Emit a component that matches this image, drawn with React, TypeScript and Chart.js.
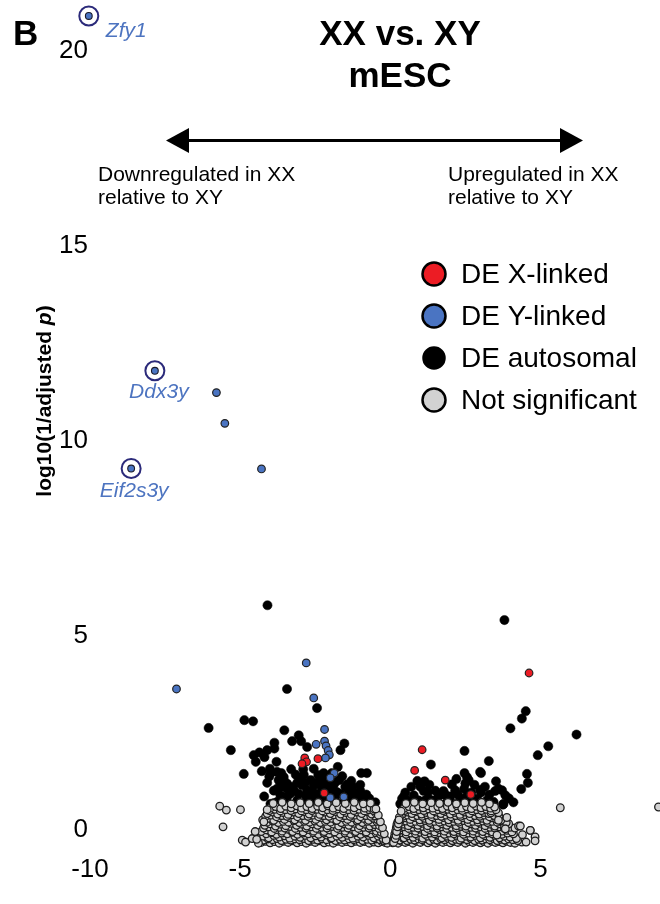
import { useEffect, useRef } from "react";
import { Chart, registerables } from "chart.js";

Chart.register(...registerables);

// Axis ticks
const xTicks = [-10, -5, 0, 5];
const yTicks = [0, 5, 10, 15, 20];

// Labelled Y-linked genes (log2 fold change, log10(1/adjusted p))
const labeledGeneNames = ["Zfy1", "Ddx3y", "Eif2s3y"];
const labeledGeneX = [-10.04, -7.84, -8.63];
const labeledGeneY = [21.24, 12.13, 9.62];

// Other DE Y-linked genes
const yLinked: [number, number][] = [
  [-5.79, 11.57], [-5.51, 10.78], [-4.29, 9.61], [-7.12, 3.96], [-2.8, 4.63],
  [-2.55, 3.73], [-2.19, 2.92], [-2.47, 2.54], [-2.19, 2.62], [-2.14, 2.5],
  [-2.07, 2.38], [-2.03, 2.27], [-2.16, 2.19], [-1.87, 1.8], [-2.0, 1.68],
  [-2.0, 1.17], [-1.55, 1.19],
];

// DE X-linked genes
const xLinked: [number, number][] = [
  [-2.85, 2.19], [-2.79, 2.09], [-2.94, 2.04], [-2.41, 2.17], [-2.2, 1.29],
  [4.62, 4.37], [1.06, 2.4], [0.81, 1.87], [1.83, 1.62], [2.68, 1.25],
];

// DE autosomal genes
const autosomal: [number, number][] = [
  [-4.09, 6.11], [-3.44, 3.96], [-2.44, 3.47], [-4.86, 3.16], [-4.57, 3.13],
  [-6.05, 2.96], [-3.53, 2.9], [-3.05, 2.77], [-3.27, 2.62], [-2.97, 2.62],
  [-3.86, 2.58], [-1.53, 2.56], [-1.66, 2.39], [-5.31, 2.39], [-4.55, 2.26],
  [-4.36, 2.33], [-4.1, 2.39], [-3.86, 2.43], [-4.48, 2.09], [-4.19, 2.21],
  [-3.79, 2.09], [-2.77, 2.47], [-2.55, 1.91], [-2.22, 1.8], [-1.75, 1.96],
  [-0.97, 1.8], [-0.78, 1.8], [-4.28, 1.85], [-4.01, 1.91], [-4.88, 1.78],
  [-4.03, 1.71], [-3.63, 1.8], [-3.72, 1.62], [-3.55, 1.62], [-3.15, 1.76],
  [-2.88, 1.76], [-3.77, 1.4], [-3.44, 1.4], [-3.1, 1.55], [-2.83, 1.55],
  [-2.55, 1.49], [-2.27, 1.62], [-2.11, 1.53], [-1.83, 1.57], [-1.44, 1.51],
  [-1.11, 1.27], [-3.66, 1.23], [-3.33, 1.27], [-2.77, 1.36], [-2.44, 1.27],
  [-2.11, 1.4], [-1.77, 1.31], [-1.44, 1.19], [-1.22, 1.1], [-3.1, 1.1],
  [-2.77, 1.1], [-2.44, 1.06], [-2.22, 1.1], [-1.83, 1.1], [-1.55, 1.06],
  [-0.89, 1.1], [-0.61, 0.98], [-3.88, 1.03], [-3.99, 1.79], [-3.77, 1.83],
  [-3.55, 1.7], [-3.66, 1.57], [-3.44, 1.53], [-3.27, 1.45], [-2.94, 1.49],
  [-2.39, 1.57], [-2.22, 1.7], [-2.05, 1.62], [-1.89, 1.49], [-1.66, 1.27],
  [-1.5, 1.45], [-1.39, 1.36], [-1.27, 1.23], [-0.94, 1.14], [-0.78, 1.06],
  [-2.0, 1.19], [-2.33, 1.19], [-2.55, 1.14], [-2.83, 1.23], [-3.05, 1.27],
  [-3.55, 1.19], [-3.77, 1.06], [-3.99, 1.01], [-1.39, 1.1], [-1.16, 1.01],
  [-3.88, 1.35], [-3.6, 1.45], [-3.2, 1.35], [-3.0, 1.62], [-2.65, 1.62],
  [-2.6, 1.35], [-2.3, 1.45], [-1.95, 1.38], [-1.7, 1.62], [-1.6, 1.72],
  [-1.25, 1.45], [-1.0, 1.35], [-0.8, 1.25], [-0.7, 1.15], [-0.5, 1.05],
  [-2.9, 1.9], [-3.3, 1.9], [-2.4, 1.75], [-1.95, 1.8], [-1.3, 1.6],
  [-3.45, 1.15], [-2.65, 1.2], [-1.0, 1.5], [-4.2, 1.2], [-4.1, 1.55],
  [3.8, 5.73], [4.51, 3.39], [4.38, 3.2], [4.0, 2.95], [6.2, 2.79],
  [5.26, 2.49], [4.91, 2.26], [2.47, 2.37], [3.28, 2.11], [1.35, 2.02],
  [2.47, 1.8], [3.02, 1.8], [4.55, 1.78], [4.58, 1.55], [4.36, 1.39],
  [1.14, 1.59], [1.0, 1.45], [1.11, 1.34], [2.55, 1.7], [2.5, 1.54],
  [2.46, 1.4], [2.05, 1.51], [2.16, 1.36], [1.77, 1.34], [1.81, 1.27],
  [2.99, 1.37], [3.02, 1.3], [3.52, 1.59], [3.6, 1.4], [3.49, 1.34],
  [3.83, 1.23], [2.53, 1.19], [2.88, 1.14], [2.96, 1.06], [3.75, 0.99],
  [0.56, 1.1], [0.78, 1.23], [0.94, 1.1], [1.16, 1.1], [1.39, 1.1],
  [1.44, 1.01], [1.83, 1.01], [1.94, 0.98], [1.11, 1.57], [0.67, 1.06],
  [1.27, 1.14], [1.61, 1.01], [1.83, 1.23], [2.33, 1.14], [2.61, 1.62],
  [2.99, 1.83], [3.72, 1.36], [3.77, 1.01], [2.11, 1.01], [2.55, 1.1],
  [2.77, 1.06], [3.22, 1.1], [3.44, 1.06], [0.33, 1.01], [0.39, 1.14],
  [0.5, 1.3], [0.7, 1.45], [0.9, 1.6], [1.25, 1.3], [1.5, 1.35],
  [1.6, 1.2], [2.0, 1.2], [2.25, 1.25], [2.7, 1.3], [2.8, 1.5],
  [3.15, 1.45], [3.3, 1.25], [3.95, 1.15], [4.1, 1.05], [0.45, 1.2],
  [1.3, 1.5], [2.2, 1.65],
];

// Genes that are not significantly different
const notSignificant: [number, number][] = [
  // near p = 1
  [-4.3, 0.02], [-4.15, 0.05], [-4.0, 0.01], [-3.85, 0.04], [-3.7, 0.0], [-3.55, 0.05],
  [-3.4, 0.02], [-3.25, 0.06], [-3.1, 0.01], [-2.95, 0.04], [-2.8, 0.0], [-2.65, 0.05],
  [-2.5, 0.02], [-2.35, 0.06], [-2.2, 0.01], [-2.05, 0.03], [-1.9, 0.0], [-1.75, 0.05],
  [-1.6, 0.02], [-1.45, 0.04], [-1.3, 0.01], [-1.15, 0.05], [-1.0, 0.02], [-0.85, 0.04],
  [-0.7, 0.0], [-0.55, 0.03], [-0.4, 0.01], [-0.28, 0.04], [-0.18, 0.02], [-0.1, 0.0],
  [0.08, 0.01], [0.16, 0.04], [0.26, 0.0], [0.38, 0.05], [0.5, 0.02], [0.62, 0.04],
  [0.75, 0.0], [0.88, 0.05], [1.0, 0.02], [1.12, 0.06], [1.25, 0.01], [1.38, 0.04],
  [1.5, 0.0], [1.62, 0.05], [1.75, 0.02], [1.88, 0.04], [2.0, 0.01], [2.12, 0.05],
  [2.25, 0.02], [2.38, 0.06], [2.5, 0.0], [2.62, 0.04], [2.75, 0.02], [2.88, 0.05],
  [3.0, 0.01], [3.12, 0.04], [3.25, 0.0], [3.38, 0.05], [3.5, 0.02], [3.62, 0.04],
  [3.75, 0.01], [3.88, 0.05], [4.0, 0.02], [4.15, 0.0], [4.38, 0.03], [4.52, 0.03],
  // ~0.09
  [-4.22, 0.08], [-4.07, 0.11], [-3.92, 0.09], [-3.77, 0.12], [-3.62, 0.07], [-3.47, 0.1],
  [-3.32, 0.08], [-3.17, 0.11], [-3.02, 0.09], [-2.87, 0.12], [-2.72, 0.07], [-2.57, 0.1],
  [-2.42, 0.08], [-2.27, 0.11], [-2.12, 0.09], [-1.97, 0.12], [-1.82, 0.07], [-1.67, 0.1],
  [-1.52, 0.08], [-1.37, 0.11], [-1.22, 0.09], [-1.07, 0.12], [-0.92, 0.07], [-0.77, 0.1],
  [-0.62, 0.08], [-0.47, 0.11], [-0.34, 0.09], [-0.22, 0.07],
  [0.12, 0.09], [0.21, 0.11], [0.32, 0.08], [0.44, 0.12], [0.56, 0.07], [0.68, 0.1],
  [0.81, 0.08], [0.94, 0.11], [1.06, 0.09], [1.18, 0.12], [1.31, 0.07], [1.44, 0.1],
  [1.56, 0.08], [1.68, 0.11], [1.81, 0.09], [1.94, 0.12], [2.06, 0.07], [2.18, 0.1],
  [2.31, 0.08], [2.44, 0.11], [2.56, 0.09], [2.68, 0.12], [2.81, 0.07], [2.94, 0.1],
  [3.06, 0.08], [3.18, 0.11], [3.31, 0.09], [3.44, 0.12], [3.56, 0.07], [3.68, 0.1],
  [3.81, 0.08], [3.94, 0.11], [4.08, 0.09], [4.24, 0.07],
  // ~0.17
  [-4.22, 0.18], [-4.05, 0.14], [-3.88, 0.2], [-3.7, 0.16], [-3.52, 0.19], [-3.35, 0.13],
  [-3.18, 0.18], [-3.0, 0.15], [-2.82, 0.2], [-2.65, 0.14], [-2.48, 0.19], [-2.3, 0.16],
  [-2.12, 0.21], [-1.95, 0.14], [-1.78, 0.18], [-1.6, 0.15], [-1.42, 0.2], [-1.25, 0.13],
  [-1.08, 0.18], [-0.9, 0.16], [-0.72, 0.2], [-0.55, 0.14], [-0.4, 0.18], [-0.24, 0.12],
  [0.18, 0.16], [0.32, 0.2], [0.46, 0.14], [0.6, 0.19], [0.76, 0.15], [0.92, 0.2],
  [1.08, 0.13], [1.24, 0.18], [1.4, 0.16], [1.56, 0.21], [1.72, 0.14], [1.88, 0.18],
  [2.04, 0.15], [2.2, 0.2], [2.36, 0.13], [2.52, 0.18], [2.68, 0.16], [2.84, 0.2],
  [3.0, 0.14], [3.16, 0.19], [3.32, 0.15], [3.48, 0.2], [3.64, 0.14], [3.8, 0.18],
  [3.99, 0.16], [4.2, 0.12], [4.82, 0.16],
  // ~0.25
  [-4.13, 0.24], [-3.96, 0.27], [-3.79, 0.23], [-3.61, 0.26], [-3.43, 0.24], [-3.26, 0.28],
  [-3.09, 0.23], [-2.91, 0.26], [-2.73, 0.24], [-2.56, 0.27], [-2.39, 0.23], [-2.21, 0.26],
  [-2.03, 0.24], [-1.86, 0.28], [-1.69, 0.23], [-1.51, 0.26], [-1.33, 0.24], [-1.16, 0.27],
  [-0.99, 0.23], [-0.81, 0.26], [-0.64, 0.24], [-0.48, 0.27], [-0.33, 0.23],
  [0.25, 0.24], [0.39, 0.27], [0.53, 0.23], [0.68, 0.26], [0.84, 0.24], [1.0, 0.28],
  [1.16, 0.23], [1.32, 0.26], [1.48, 0.24], [1.64, 0.27], [1.8, 0.23], [1.96, 0.26],
  [2.12, 0.24], [2.28, 0.28], [2.44, 0.23], [2.6, 0.26], [2.76, 0.24], [2.92, 0.27],
  [3.08, 0.23], [3.24, 0.26], [3.4, 0.24], [3.56, 0.27], [3.72, 0.23], [3.9, 0.26],
  [4.1, 0.24], [4.4, 0.22],
  // ~0.32
  [-4.3, 0.3], [-4.12, 0.34], [-3.95, 0.29], [-3.78, 0.35], [-3.6, 0.31], [-3.42, 0.36],
  [-3.25, 0.3], [-3.08, 0.34], [-2.9, 0.29], [-2.72, 0.35], [-2.55, 0.31], [-2.38, 0.36],
  [-2.2, 0.3], [-2.02, 0.34], [-1.85, 0.29], [-1.68, 0.35], [-1.5, 0.31], [-1.32, 0.36],
  [-1.15, 0.3], [-0.98, 0.34], [-0.8, 0.29], [-0.62, 0.35], [-0.46, 0.31], [-0.3, 0.28],
  [0.24, 0.3], [0.38, 0.34], [0.53, 0.29], [0.68, 0.35], [0.84, 0.31], [1.0, 0.36],
  [1.16, 0.3], [1.32, 0.34], [1.48, 0.29], [1.64, 0.35], [1.8, 0.31], [1.96, 0.36],
  [2.12, 0.3], [2.28, 0.34], [2.44, 0.29], [2.6, 0.35], [2.76, 0.31], [2.92, 0.36],
  [3.08, 0.3], [3.24, 0.34], [3.4, 0.29], [3.56, 0.35], [3.72, 0.31], [3.88, 0.33],
  [4.05, 0.29], [4.66, 0.33],
  // ~0.40
  [-4.22, 0.39], [-4.04, 0.42], [-3.86, 0.38], [-3.69, 0.41], [-3.51, 0.39], [-3.33, 0.43],
  [-3.16, 0.38], [-2.99, 0.41], [-2.81, 0.39], [-2.63, 0.42], [-2.46, 0.38], [-2.29, 0.41],
  [-2.11, 0.39], [-1.93, 0.43], [-1.76, 0.38], [-1.59, 0.41], [-1.41, 0.39], [-1.23, 0.42],
  [-1.06, 0.38], [-0.89, 0.41], [-0.71, 0.39], [-0.54, 0.42], [-0.38, 0.38],
  [0.3, 0.39], [0.46, 0.42], [0.61, 0.38], [0.76, 0.41], [0.92, 0.39], [1.08, 0.43],
  [1.24, 0.38], [1.4, 0.41], [1.56, 0.39], [1.72, 0.42], [1.88, 0.38], [2.04, 0.41],
  [2.2, 0.39], [2.36, 0.43], [2.52, 0.38], [2.68, 0.41], [2.84, 0.39], [3.0, 0.42],
  [3.16, 0.38], [3.32, 0.41], [3.48, 0.39], [3.64, 0.42], [3.8, 0.38], [3.98, 0.41],
  [4.15, 0.39],
  // ~0.47
  [-4.18, 0.46], [-4.0, 0.5], [-3.82, 0.44], [-3.65, 0.49], [-3.48, 0.45], [-3.3, 0.51],
  [-3.12, 0.46], [-2.95, 0.49], [-2.78, 0.44], [-2.6, 0.5], [-2.42, 0.46], [-2.25, 0.51],
  [-2.08, 0.45], [-1.9, 0.49], [-1.72, 0.44], [-1.55, 0.5], [-1.38, 0.46], [-1.2, 0.51],
  [-1.02, 0.45], [-0.85, 0.49], [-0.68, 0.44], [-0.52, 0.48], [-0.36, 0.45],
  [0.28, 0.44], [0.44, 0.49], [0.6, 0.45], [0.76, 0.5], [0.92, 0.46], [1.08, 0.51],
  [1.24, 0.45], [1.4, 0.49], [1.56, 0.44], [1.72, 0.5], [1.88, 0.46], [2.04, 0.51],
  [2.2, 0.45], [2.36, 0.49], [2.52, 0.44], [2.68, 0.5], [2.84, 0.46], [3.0, 0.51],
  [3.16, 0.45], [3.32, 0.49], [3.48, 0.44], [3.64, 0.5], [3.8, 0.46], [3.94, 0.5],
  [4.27, 0.44], [3.55, 0.21],
  // ~0.55
  [-4.1, 0.54], [-3.91, 0.57], [-3.73, 0.53], [-3.56, 0.56], [-3.39, 0.54], [-3.21, 0.58],
  [-3.03, 0.53], [-2.86, 0.56], [-2.69, 0.54], [-2.51, 0.57], [-2.33, 0.53], [-2.16, 0.56],
  [-1.99, 0.54], [-1.81, 0.58], [-1.63, 0.53], [-1.46, 0.56], [-1.29, 0.54], [-1.11, 0.57],
  [-0.93, 0.53], [-0.76, 0.56], [-0.6, 0.54], [-0.45, 0.56],
  [0.36, 0.54], [0.52, 0.57], [0.68, 0.53], [0.84, 0.56], [1.0, 0.54], [1.16, 0.58],
  [1.32, 0.53], [1.48, 0.56], [1.64, 0.54], [1.8, 0.57], [1.96, 0.53], [2.12, 0.56],
  [2.28, 0.54], [2.44, 0.58], [2.6, 0.53], [2.76, 0.56], [2.92, 0.54], [3.08, 0.57],
  [3.24, 0.53], [3.4, 0.56], [3.56, 0.54], [3.72, 0.57], [3.86, 0.53],
  // ~0.62
  [-4.25, 0.6], [-4.05, 0.64], [-3.88, 0.59], [-3.7, 0.65], [-3.52, 0.61], [-3.35, 0.66],
  [-3.18, 0.6], [-3.0, 0.64], [-2.82, 0.59], [-2.65, 0.65], [-2.48, 0.61], [-2.3, 0.66],
  [-2.12, 0.6], [-1.95, 0.64], [-1.78, 0.59], [-1.6, 0.65], [-1.42, 0.61], [-1.25, 0.66],
  [-1.08, 0.6], [-0.9, 0.64], [-0.72, 0.59], [-0.56, 0.64], [-0.42, 0.6],
  [0.34, 0.6], [0.5, 0.65], [0.66, 0.61], [0.82, 0.66], [0.98, 0.6], [1.14, 0.64],
  [1.3, 0.59], [1.46, 0.65], [1.62, 0.61], [1.78, 0.66], [1.94, 0.6], [2.1, 0.64],
  [2.26, 0.59], [2.42, 0.65], [2.58, 0.61], [2.74, 0.66], [2.9, 0.6], [3.06, 0.64],
  [3.22, 0.59], [3.38, 0.65], [3.54, 0.61], [3.68, 0.59], [3.88, 0.66],
  // ~0.70
  [-4.15, 0.69], [-3.97, 0.72], [-3.79, 0.68], [-3.61, 0.71], [-3.44, 0.69], [-3.27, 0.73],
  [-3.09, 0.68], [-2.91, 0.71], [-2.74, 0.69], [-2.57, 0.72], [-2.39, 0.68], [-2.21, 0.71],
  [-2.04, 0.69], [-1.87, 0.73], [-1.69, 0.68], [-1.51, 0.71], [-1.34, 0.69], [-1.17, 0.72],
  [-0.99, 0.68], [-0.81, 0.71], [-0.65, 0.69], [-0.5, 0.7],
  [0.42, 0.69], [0.58, 0.72], [0.74, 0.68], [0.9, 0.71], [1.06, 0.69], [1.22, 0.73],
  [1.38, 0.68], [1.54, 0.71], [1.7, 0.69], [1.86, 0.72], [2.02, 0.68], [2.18, 0.71],
  [2.34, 0.69], [2.5, 0.73], [2.66, 0.68], [2.82, 0.71], [2.98, 0.69], [3.14, 0.72],
  [3.3, 0.68], [3.46, 0.71], [3.62, 0.69],
  // ~0.77
  [-4.1, 0.76], [-3.92, 0.8], [-3.75, 0.75], [-3.58, 0.79], [-3.4, 0.74], [-3.22, 0.8],
  [-3.05, 0.76], [-2.88, 0.81], [-2.7, 0.75], [-2.52, 0.79], [-2.35, 0.74], [-2.18, 0.8],
  [-2.0, 0.76], [-1.82, 0.81], [-1.65, 0.75], [-1.48, 0.79], [-1.3, 0.74], [-1.12, 0.8],
  [-0.95, 0.76], [-0.78, 0.81], [-0.62, 0.75], [-0.48, 0.77],
  [0.4, 0.75], [0.56, 0.8], [0.72, 0.76], [0.88, 0.81], [1.04, 0.75], [1.2, 0.79],
  [1.36, 0.74], [1.52, 0.8], [1.68, 0.76], [1.84, 0.81], [2.0, 0.75], [2.16, 0.79],
  [2.32, 0.74], [2.48, 0.8], [2.64, 0.76], [2.8, 0.81], [2.96, 0.75], [3.12, 0.79],
  [3.28, 0.76], [3.35, 0.78], [3.6, 0.78],
  // ~0.85
  [-4.02, 0.84], [-3.84, 0.87], [-3.66, 0.83], [-3.49, 0.86], [-3.31, 0.84], [-3.14, 0.88],
  [-2.96, 0.83], [-2.79, 0.86], [-2.61, 0.84], [-2.44, 0.87], [-2.26, 0.83], [-2.09, 0.86],
  [-1.91, 0.84], [-1.74, 0.88], [-1.56, 0.83], [-1.39, 0.86], [-1.21, 0.84], [-1.04, 0.87],
  [-0.86, 0.83], [-0.7, 0.86], [-0.56, 0.84],
  [0.48, 0.84], [0.64, 0.87], [0.8, 0.83], [0.96, 0.86], [1.12, 0.84], [1.28, 0.88],
  [1.44, 0.83], [1.6, 0.86], [1.76, 0.84], [1.92, 0.87], [2.08, 0.83], [2.24, 0.86],
  [2.4, 0.84], [2.56, 0.88], [2.72, 0.83], [2.88, 0.86], [3.04, 0.84], [3.2, 0.87],
  [3.36, 0.83], [3.52, 0.86],
  // ~0.92
  [-4.0, 0.9], [-3.82, 0.94], [-3.65, 0.89], [-3.48, 0.95], [-3.3, 0.91], [-3.12, 0.96],
  [-2.95, 0.9], [-2.78, 0.94], [-2.6, 0.89], [-2.42, 0.95], [-2.25, 0.91], [-2.08, 0.96],
  [-1.9, 0.9], [-1.72, 0.94], [-1.55, 0.89], [-1.38, 0.95], [-1.2, 0.91], [-1.02, 0.96],
  [-0.85, 0.9], [-0.68, 0.92], [-0.54, 0.88],
  [0.46, 0.9], [0.62, 0.94], [0.78, 0.89], [0.94, 0.95], [1.1, 0.91], [1.26, 0.96],
  [1.42, 0.9], [1.58, 0.94], [1.74, 0.89], [1.9, 0.95], [2.06, 0.91], [2.22, 0.96],
  [2.38, 0.9], [2.54, 0.94], [2.7, 0.89], [2.86, 0.95], [3.02, 0.91], [3.18, 0.94],
  [3.34, 0.9], [3.47, 0.93],
  // ~1.03
  [-3.9, 1.02], [-3.6, 1.05], [-3.3, 1.01], [-3.0, 1.04], [-2.7, 1.02], [-2.4, 1.05],
  [-2.1, 1.01], [-1.8, 1.04], [-1.5, 1.02], [-1.2, 1.05], [-0.9, 1.01], [-0.66, 1.03],
  [0.52, 1.02], [0.8, 1.05], [1.08, 1.01], [1.36, 1.04], [1.64, 1.02], [1.92, 1.05],
  [2.2, 1.01], [2.48, 1.04], [2.76, 1.02], [3.04, 1.05], [3.3, 1.01],
  // edges of the notch around zero
  [-0.14, 0.08], [-0.2, 0.24], [-0.26, 0.4], [-0.33, 0.55], [-0.4, 0.72], [-0.48, 0.88],
  [0.12, 0.06], [0.15, 0.24], [0.2, 0.4], [0.25, 0.55], [0.3, 0.66], [0.36, 0.82],
  [0.13, 0.15], [0.18, 0.32], [0.22, 0.48], [0.11, 0.02], [0.16, 0.12], [0.19, 0.2],
  [0.21, 0.3], [0.24, 0.42], [0.27, 0.5], [0.29, 0.6],
  // scattered
  [-5.68, 0.95], [-5.46, 0.85], [-4.99, 0.86], [-4.1, 0.86], [-5.57, 0.42], [-4.21, 0.55],
  [-4.93, 0.08], [-4.82, 0.03], [-4.39, 0.0], [-4.6, 0.12], [-4.5, 0.3], [-4.45, 0.1],
  [5.66, 0.91], [8.93, 0.93], [4.33, 0.44], [4.66, 0.33], [4.82, 0.06], [3.83, 0.37],
  [3.6, 0.59],
];

const legendLabels = ["DE X-linked", "DE Y-linked", "DE autosomal", "Not significant"];

const RED = "#ec1c24";
const BLUE = "#4a74c2";
const GREY = "#d2d2d2";
const NAVY = "#2b2a7a";
const LABEL_BLUE = "#4d74c0";
const FONT = '"Liberation Sans", Arial, Helvetica, sans-serif';

const toPoints = (arr: [number, number][]) => arr.map(([x, y]) => ({ x, y }));

const decorations = {
  id: "volcanoDecorations",
  afterDraw(chart: any) {
    const { ctx } = chart;
    const xs = chart.scales.x;
    const ys = chart.scales.y;
    ctx.save();
    ctx.fillStyle = "#000";
    ctx.textBaseline = "alphabetic";

    // panel letter
    ctx.font = `bold 35px ${FONT}`;
    ctx.textAlign = "left";
    ctx.fillText("B", 13, 45);

    // title
    ctx.textAlign = "center";
    ctx.fillText("XX vs. XY", 400, 45);
    ctx.fillText("mESC", 400, 87);

    // double-headed arrow
    const ay = 140.5;
    ctx.strokeStyle = "#000";
    ctx.lineWidth = 3;
    ctx.beginPath();
    ctx.moveTo(185, ay);
    ctx.lineTo(562, ay);
    ctx.stroke();
    ctx.beginPath();
    ctx.moveTo(166, ay);
    ctx.lineTo(189, ay - 12.5);
    ctx.lineTo(189, ay + 12.5);
    ctx.closePath();
    ctx.fill();
    ctx.beginPath();
    ctx.moveTo(583, ay);
    ctx.lineTo(560, ay - 12.5);
    ctx.lineTo(560, ay + 12.5);
    ctx.closePath();
    ctx.fill();

    // direction notes
    ctx.font = `21px ${FONT}`;
    ctx.textAlign = "left";
    ctx.fillText("Downregulated in XX", 98, 181);
    ctx.fillText("relative to XY", 98, 204);
    ctx.fillText("Upregulated in XX", 448, 181);
    ctx.fillText("relative to XY", 448, 204);

    // legend
    const fills = [RED, BLUE, "#000", GREY];
    const rowY = [274, 316, 358, 400];
    ctx.font = `28px ${FONT}`;
    ctx.textBaseline = "middle";
    legendLabels.forEach((label, i) => {
      ctx.beginPath();
      ctx.arc(434, rowY[i], i === 2 ? 10.5 : 11.5, 0, Math.PI * 2);
      ctx.fillStyle = fills[i];
      ctx.fill();
      ctx.lineWidth = 2.5;
      ctx.strokeStyle = "#000";
      ctx.stroke();
      ctx.fillStyle = "#000";
      ctx.textAlign = "left";
      ctx.fillText(label, 461, rowY[i] + 1);
    });

    // y-axis title with italic p
    ctx.save();
    ctx.translate(45, 401);
    ctx.rotate(-Math.PI / 2);
    ctx.textBaseline = "middle";
    const partA = "log10(1/adjusted ";
    const partB = "p";
    const partC = ")";
    const fA = `bold 21px ${FONT}`;
    const fB = `italic bold 21px ${FONT}`;
    ctx.font = fA;
    const wA = ctx.measureText(partA).width;
    const wC = ctx.measureText(partC).width;
    ctx.font = fB;
    const wB = ctx.measureText(partB).width;
    let cx = -(wA + wB + wC) / 2;
    ctx.textAlign = "left";
    ctx.fillStyle = "#000";
    ctx.font = fA;
    ctx.fillText(partA, cx, 0);
    cx += wA;
    ctx.font = fB;
    ctx.fillText(partB, cx, 0);
    cx += wB;
    ctx.font = fA;
    ctx.fillText(partC, cx, 0);
    ctx.restore();

    // gene labels
    const offsets = [
      { dx: 17, dy: 15, align: "left" },
      { dx: 4, dy: 21, align: "center" },
      { dx: 3, dy: 23, align: "center" },
    ];
    ctx.font = `italic 21px ${FONT}`;
    ctx.fillStyle = LABEL_BLUE;
    ctx.textBaseline = "middle";
    labeledGeneNames.forEach((name, i) => {
      const px = xs.getPixelForValue(labeledGeneX[i]);
      const py = ys.getPixelForValue(labeledGeneY[i]);
      ctx.textAlign = offsets[i].align;
      ctx.fillText(name, px + offsets[i].dx, py + offsets[i].dy);
    });

    ctx.restore();
  },
};

export default function App() {
  const canvasRef = useRef<HTMLCanvasElement | null>(null);

  useEffect(() => {
    const canvas = canvasRef.current;
    if (!canvas) return;
    const labeled = labeledGeneNames.map((_, i) => ({ x: labeledGeneX[i], y: labeledGeneY[i] }));

    const chart = new Chart(canvas, {
      type: "scatter",
      data: {
        datasets: [
          {
            label: "highlight",
            data: labeled,
            pointRadius: 9.5,
            pointBackgroundColor: "rgba(0,0,0,0)",
            pointBorderColor: NAVY,
            pointBorderWidth: 2,
            order: 0,
            clip: false,
          },
          {
            label: "DE Y-linked (labelled)",
            data: labeled,
            pointRadius: 3.4,
            pointBackgroundColor: BLUE,
            pointBorderColor: "#1a1a2a",
            pointBorderWidth: 1.1,
            order: 1,
            clip: false,
          },
          {
            label: "DE X-linked",
            data: toPoints(xLinked),
            pointRadius: 3.8,
            pointBackgroundColor: RED,
            pointBorderColor: "#222",
            pointBorderWidth: 1.2,
            order: 1,
            clip: false,
          },
          {
            label: "DE Y-linked",
            data: toPoints(yLinked),
            pointRadius: 3.8,
            pointBackgroundColor: BLUE,
            pointBorderColor: "#222",
            pointBorderWidth: 1.2,
            order: 1,
            clip: false,
          },
          {
            label: "Not significant",
            data: toPoints(notSignificant),
            pointRadius: 3.8,
            pointBackgroundColor: GREY,
            pointBorderColor: "#1c1c1c",
            pointBorderWidth: 1.3,
            order: 3,
            clip: false,
          },
          {
            label: "DE autosomal",
            data: toPoints(autosomal),
            pointRadius: 4.6,
            pointBackgroundColor: "#000",
            pointBorderColor: "#000",
            pointBorderWidth: 0.5,
            order: 4,
            clip: false,
          },
        ],
      },
      options: {
        responsive: false,
        animation: false,
        devicePixelRatio: 1,
        events: [],
        layout: { padding: 0, autoPadding: false },
        plugins: {
          legend: { display: false },
          tooltip: { enabled: false },
          title: { display: false },
        },
        scales: {
          x: {
            type: "linear",
            min: -10,
            max: 8.98,
            grid: { display: false, drawTicks: false },
            border: { display: false },
            ticks: {
              color: "#000",
              font: { family: FONT, size: 26 },
              padding: 3,
              maxRotation: 0,
              autoSkip: false,
              callback: (v: any) => String(v),
            },
            afterBuildTicks: (s: any) => {
              s.ticks = xTicks.map((value) => ({ value }));
            },
            afterFit: (s: any) => {
              s.height = 53;
              s.paddingLeft = 0;
              s.paddingRight = 0;
            },
          },
          y: {
            type: "linear",
            min: -0.2,
            max: 21.65,
            grid: { display: false, drawTicks: false },
            border: { display: false },
            ticks: {
              color: "#000",
              font: { family: FONT, size: 26 },
              padding: 2,
              labelOffset: -13,
              autoSkip: false,
              callback: (v: any) => String(v),
            },
            afterBuildTicks: (s: any) => {
              s.ticks = yTicks.map((value) => ({ value }));
            },
            afterFit: (s: any) => {
              s.width = 90;
              s.paddingTop = 0;
              s.paddingBottom = 0;
            },
          },
        },
      },
      plugins: [decorations],
    } as any);

    return () => chart.destroy();
  }, []);

  return (
    <div style={{ position: "fixed", left: 0, top: 0, width: 660, height: 904, background: "#fff" }}>
      <canvas ref={canvasRef} width={660} height={904} style={{ display: "block" }} />
    </div>
  );
}
